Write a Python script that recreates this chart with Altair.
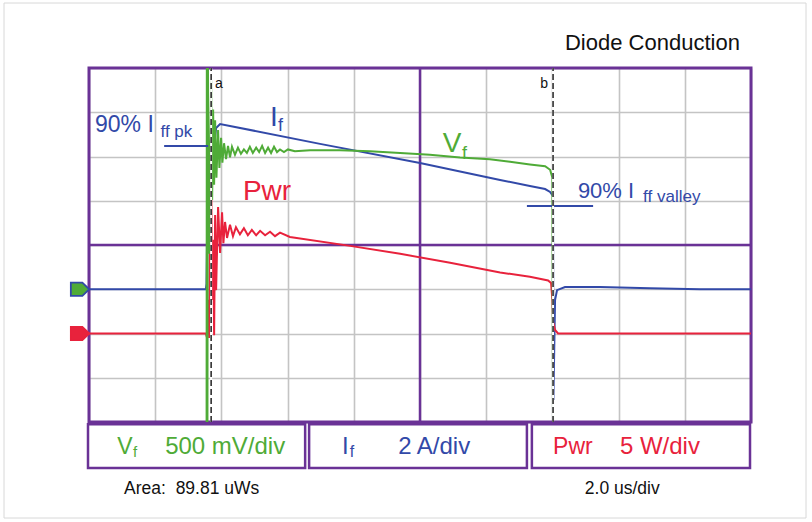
import altair as alt
import pandas as pd

# ---------------- data ----------------
# time base in microseconds (2.0 us/div, 10 divisions across)
if_t = [0.0, 3.53, 3.55, 3.60, 3.78, 3.84, 3.96, 6.98, 10.0, 12.42, 13.32, 13.78,
        13.93, 14.02, 14.03, 14.08, 14.14, 14.38, 15.44, 16.95, 18.46, 20.0]
if_a = [0.0, 0.0, 0.24, 6.47, 6.47, 7.29, 7.47, 6.57, 5.71, 4.94, 4.67, 4.53,
        4.40, 4.21, -5.0, -0.49, -0.04, 0.1, 0.1, 0.05, 0.0, 0.0]          # A

vf_t = [0.0, 3.55, 3.56, 3.575, 3.59, 3.625, 3.69, 3.72, 3.75, 3.78, 3.81, 3.85,
        3.90, 3.94, 3.99, 4.03, 4.08, 4.14, 4.20, 4.26, 4.32, 4.41, 4.50, 4.59,
        4.68, 4.77, 4.86, 4.95, 5.05, 5.14, 5.23, 5.32, 5.41, 5.50, 5.59, 5.68,
        5.77, 5.89, 6.01, 6.22, 6.68, 7.58, 8.49, 9.40, 10.30, 11.21, 12.11,
        12.72, 13.32, 13.78, 13.93, 14.00, 14.03, 20.0]
vf_v = [-3.0, -3.0, 2.8, -3.0, 2.8, 0.4, 2.36, 1.01, 2.03, 1.18, 1.91, 1.26,
        1.80, 1.37, 1.71, 1.43, 1.65, 1.47, 1.62, 1.49, 1.61, 1.52, 1.60, 1.53,
        1.58, 1.54, 1.61, 1.54, 1.60, 1.55, 1.62, 1.54, 1.60, 1.54, 1.61, 1.55,
        1.58, 1.55, 1.58, 1.56, 1.57, 1.57, 1.56, 1.54, 1.52, 1.49, 1.47,
        1.44, 1.41, 1.39, 1.35, 1.26, -3.0, -3.0]                          # V

pw_t = [0.0, 3.53, 3.56, 3.60, 3.63, 3.66, 3.69, 3.72, 3.75, 3.78, 3.81, 3.84,
        3.90, 3.96, 4.02, 4.06, 4.11, 4.17, 4.26, 4.35, 4.44, 4.56, 4.68, 4.80,
        4.92, 5.05, 5.17, 5.32, 5.47, 5.62, 5.77, 6.07, 7.89, 9.40, 10.91, 12.42,
        13.32, 13.87, 13.96, 14.00, 14.02, 14.08, 14.17, 20.0]
pw_w = [0.0, 0.0, -0.4, 3.8, -0.5, 15.1, 19.6, 3.8, 10.6, -0.2, 13.4, 4.9,
        14.3, 9.1, 13.7, 10.2, 12.6, 10.8, 12.3, 11.0, 12.0, 11.2, 11.9, 11.1,
        11.7, 11.1, 11.6, 11.1, 11.5, 11.0, 11.4, 10.9, 9.9, 9.0, 8.0, 6.9,
        6.4, 6.0, 5.7, 3.8, 1.3, 0.4, 0.0, 0.0]                            # W

trace_names = ["If", "Pwr", "Vf"]
trace_per_div = [2.0, 5.0, 0.5]      # A/div, W/div, V/div
trace_ground = [3.0, 2.0, 3.0]       # ground marker position, divisions
cursor_t = [3.69, 14.02]             # cursors a and b (us)
cursor_lbl = ["a", "b"]
# 90 % current reference marks: (t start, t end, current in A)
ref_t0 = [2.27, 13.23]
ref_t1 = [3.60, 15.23]
ref_a = [6.47, 3.76]

BLUE = "#3249a8"
GREEN = "#4fab37"
RED = "#e8223c"
PURPLE = "#6a3296"
GRID = "#c4c4c4"
FONT = "Liberation Sans"

series = {"If": (if_t, if_a), "Pwr": (pw_t, pw_w), "Vf": (vf_t, vf_v)}
rows = []
for name, per_div, gnd in zip(trace_names, trace_per_div, trace_ground):
    ts, vs = series[name]
    for i, (t, v) in enumerate(zip(ts, vs, strict=True)):
        rows.append({"trace": name, "i": i, "t": t, "div": gnd + v / per_div})
df = pd.DataFrame(rows)

X = alt.Scale(domain=[0, 20], nice=False, zero=False)
Y = alt.Scale(domain=[0, 8], nice=False, zero=False)

# ---------------- grid + frame ----------------
frame = alt.Chart(pd.DataFrame({"x0": [0], "x1": [20], "y0": [0], "y1": [8]})).mark_rect(
    fillOpacity=0, stroke=PURPLE, strokeWidth=3
).encode(
    x=alt.X("x0:Q", scale=X, axis=alt.Axis(values=list(range(0, 21, 2)), grid=True,
            gridColor=GRID, gridWidth=1.6, domain=False, labels=False, ticks=False, title=None)),
    x2="x1:Q",
    y=alt.Y("y0:Q", scale=Y, axis=alt.Axis(values=list(range(0, 9)), grid=True,
            gridColor=GRID, gridWidth=1.6, domain=False, labels=False, ticks=False, title=None)),
    y2="y1:Q",
)

center_v = alt.Chart(pd.DataFrame({"x": [10], "y0": [0], "y1": [8]})).mark_rule(
    color=PURPLE, strokeWidth=2.5).encode(x=alt.X("x:Q", scale=X), y=alt.Y("y0:Q", scale=Y), y2="y1:Q")
center_h = alt.Chart(pd.DataFrame({"y": [4], "x0": [0], "x1": [20]})).mark_rule(
    color=PURPLE, strokeWidth=2.5).encode(y=alt.Y("y:Q", scale=Y), x=alt.X("x0:Q", scale=X), x2="x1:Q")

# ---------------- traces ----------------
def trace(name, color):
    return alt.Chart(df).transform_filter(alt.datum.trace == name).mark_line(
        color=color, strokeWidth=2, clip=True, interpolate="linear"
    ).encode(
        x=alt.X("t:Q", scale=X), y=alt.Y("div:Q", scale=Y), order="i:Q"
    )

blue_line = trace("If", BLUE)
red_line = trace("Pwr", RED)
green_line = trace("Vf", GREEN)

ref_df = pd.DataFrame({"t0": ref_t0, "t1": ref_t1, "a": ref_a})
ref_marks = alt.Chart(ref_df).transform_calculate(
    div=f"{trace_ground[0]} + datum.a / {trace_per_div[0]}"
).mark_rule(color=BLUE, strokeWidth=2).encode(
    x=alt.X("t0:Q", scale=X), x2="t1:Q", y=alt.Y("div:Q", scale=Y))

# ---------------- cursors ----------------
cur_df = pd.DataFrame({"t": cursor_t, "lbl": cursor_lbl, "y0": [0, 0], "y1": [8, 8]})
cur_white = alt.Chart(cur_df).mark_rule(color="white", strokeWidth=2).encode(
    x=alt.X("t:Q", scale=X), y=alt.Y("y0:Q", scale=Y), y2="y1:Q")
cur_dash = alt.Chart(cur_df).mark_rule(color="#222222", strokeWidth=1.5, strokeDash=[6, 3]).encode(
    x=alt.X("t:Q", scale=X), y=alt.Y("y0:Q", scale=Y), y2="y1:Q")

# ---------------- markers (ground references) ----------------
mk_df = pd.DataFrame({"t": [-0.27, -0.27], "div": [3.0, 2.0],
                      "fill": [GREEN, RED], "stroke": [BLUE, RED]})
markers = alt.Chart(mk_df).mark_point(
    shape="M -1 -0.72 L 0.25 -0.72 L 1 0 L 0.25 0.72 L -1 0.72 Z",
    filled=True, size=340, opacity=1, strokeWidth=1.8
).encode(
    x=alt.X("t:Q", scale=X), y=alt.Y("div:Q", scale=Y),
    fill=alt.Fill("fill:N", scale=None), stroke=alt.Stroke("stroke:N", scale=None)
)

# ---------------- scale boxes ----------------
box_df = pd.DataFrame({"x0": [-0.03, 6.65, 13.38], "x1": [6.53, 13.23, 19.97],
                       "y0": [-0.05] * 3, "y1": [-1.04] * 3})
boxes = alt.Chart(box_df).mark_rect(fill="white", stroke=PURPLE, strokeWidth=2.5).encode(
    x=alt.X("x0:Q", scale=X), x2="x1:Q", y=alt.Y("y0:Q", scale=Y), y2="y1:Q")

# ---------------- texts ----------------
NBSP = "\u00a0"
txt = pd.DataFrame([
    # text, t, div (baseline), size, color
    ("Diode Conduction", 14.38, 8.41, 22, "#111111"),
    ("a", 3.81, 7.55, 14, "#111111"),
    ("b", 13.63, 7.55, 14, "#111111"),
    ("90% I", 0.18, 6.55, 23, BLUE),
    ("ff pk", 2.16, 6.44, 17, BLUE),
    ("I", 5.47, 6.69, 28, BLUE),
    ("f", 5.71, 6.58, 18, BLUE),
    ("V", 10.69, 6.10, 28, GREEN),
    ("f", 11.27, 5.95, 18, GREEN),
    ("Pwr", 4.65, 5.02, 28, RED),
    ("90% I", 14.77, 5.06, 22, BLUE),
    ("ff valley", 16.74, 4.97, 17, BLUE),
    ("V", 0.85, -0.72, 23, GREEN),
    ("f", 1.33, -0.79, 15, GREEN),
    ("500 mV/div", 2.30, -0.72, 24, GREEN),
    ("I", 7.64, -0.72, 24, BLUE),
    ("f", 7.88, -0.79, 16, BLUE),
    ("2 A/div", 9.34, -0.72, 24, BLUE),
    ("Pwr", 14.02, -0.72, 23, RED),
    ("5 W/div", 16.04, -0.72, 24, RED),
    ("Area:" + NBSP + NBSP + "89.81 uWs", 1.06, -1.63, 17.5, "#111111"),
    ("2.0 us/div", 14.98, -1.63, 17.5, "#111111"),
], columns=["text", "t", "div", "size", "color"])

texts = alt.Chart(txt).mark_text(align="left", baseline="alphabetic", font=FONT).encode(
    x=alt.X("t:Q", scale=X), y=alt.Y("div:Q", scale=Y), text="text:N",
    size=alt.Size("size:Q", scale=None), color=alt.Color("color:N", scale=None))

outer = alt.Chart(pd.DataFrame({"a": [0]})).mark_rect(
    fillOpacity=0, stroke="#d8d8d8", strokeWidth=1).encode(
    x=alt.value(-85), x2=alt.value(717), y=alt.value(-65), y2=alt.value(450))

chart = alt.layer(
    outer, frame, center_v, center_h, blue_line, red_line, green_line, ref_marks,
    cur_white, cur_dash, markers, boxes, texts
).properties(
    width=662, height=354,
    autosize=alt.AutoSizeParams(type="none"),
    padding={"left": 89, "top": 68, "right": 61, "bottom": 100},
    background="white",
).configure_view(stroke=None)

chart.save("out.html", embed_options={"renderer": "svg", "actions": False})
